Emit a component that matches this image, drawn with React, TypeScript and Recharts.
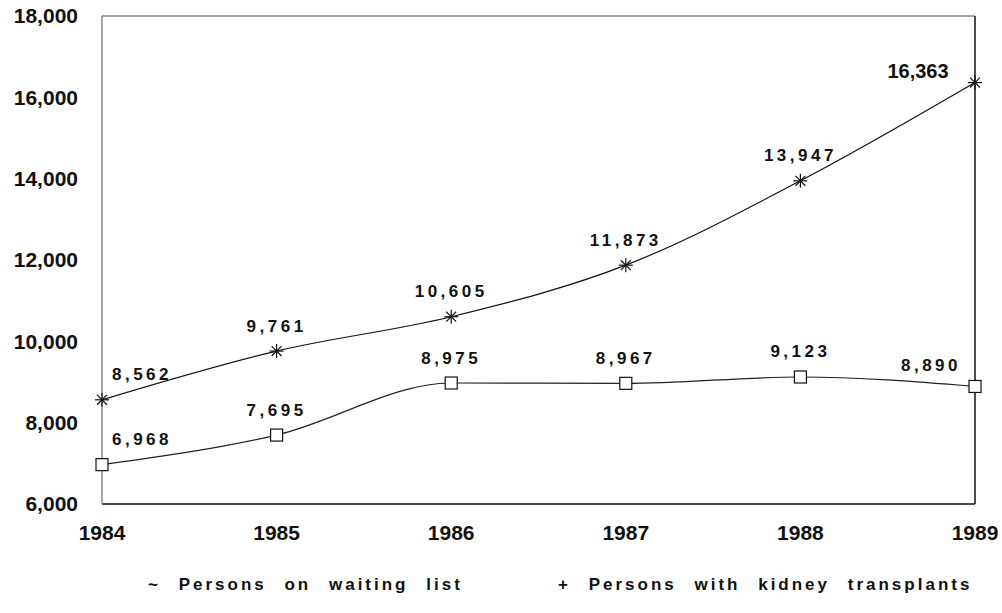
import React from 'react';
import { LineChart, Line, XAxis, YAxis, ReferenceLine, LabelList } from 'recharts';

const years = [1984, 1985, 1986, 1987, 1988, 1989];
const waitingList = [8562, 9761, 10605, 11873, 13947, 16363];
const transplants = [6968, 7695, 8975, 8967, 9123, 8890];
const yTicks = [6000, 8000, 10000, 12000, 14000, 16000, 18000];

const data = years.map((year, i) => ({
  year,
  waiting: waitingList[i],
  transplants: transplants[i],
}));

const FONT = '"Liberation Sans", Arial, sans-serif';
const fmt = (v: number) => v.toLocaleString('en-US');

const Asterisk = (props: any) => {
  const { cx, cy } = props;
  if (cx == null || cy == null) return null;
  const r = 7;
  const d = r * 0.707;
  return (
    <g stroke="#111" strokeWidth={1.2}>
      <line x1={cx - r} y1={cy} x2={cx + r} y2={cy} />
      <line x1={cx} y1={cy - r} x2={cx} y2={cy + r} />
      <line x1={cx - d} y1={cy - d} x2={cx + d} y2={cy + d} />
      <line x1={cx - d} y1={cy + d} x2={cx + d} y2={cy - d} />
    </g>
  );
};

const Square = (props: any) => {
  const { cx, cy } = props;
  if (cx == null || cy == null) return null;
  return <rect x={cx - 6} y={cy - 6} width={12} height={12} fill="#fff" stroke="#111" strokeWidth={1.2} />;
};

// nudge the end labels so they stay inside the frame
const makeLabel = (lastDx: number, lastDy: number, lastPlain: boolean) => (props: any) => {
  const { x, y, value, index } = props;
  let dx = 0;
  let dy = -25;
  if (index === 0) dx = 40;
  if (index === years.length - 1) {
    dx = lastDx;
    dy = lastDy;
  }
  const plain = lastPlain && index === years.length - 1;
  return (
    <text
      x={x + dx}
      y={y + dy}
      textAnchor="middle"
      dominantBaseline="central"
      fontFamily={FONT}
      fontWeight="bold"
      fontSize={plain ? 20 : 17}
      letterSpacing={plain ? 0 : 3.5}
      fill="#111"
    >
      {fmt(value)}
    </text>
  );
};

const tickStyle = { fill: '#111', fontSize: 21, fontWeight: 'bold', fontFamily: FONT };

export default function App() {
  return (
    <div style={{ position: 'absolute', left: 0, top: 0, width: 1002, height: 613, background: '#fff' }}>
      <LineChart
        width={1002}
        height={613}
        data={data}
        margin={{ top: 16, right: 27, left: 0, bottom: 79 }}
      >
        <XAxis
          dataKey="year"
          type="number"
          domain={[1984, 1989]}
          ticks={years}
          axisLine={{ stroke: '#111', strokeWidth: 1.5 }}
          tickLine={false}
          tickSize={0}
          tickMargin={21}
          height={30}
          tick={tickStyle}
        />
        <YAxis
          domain={[6000, 18000]}
          ticks={yTicks}
          tickFormatter={fmt}
          axisLine={{ stroke: '#888', strokeWidth: 1.5 }}
          tickLine={false}
          tickSize={0}
          tickMargin={24}
          width={102}
          tick={tickStyle}
        />
        <ReferenceLine y={18000} stroke="#888" strokeWidth={1.5} />
        <ReferenceLine x={1989} stroke="#111" strokeWidth={1.5} />
        <Line
          type="monotone"
          dataKey="waiting"
          stroke="#111"
          strokeWidth={1.2}
          dot={<Asterisk />}
          isAnimationActive={false}
        >
          <LabelList dataKey="waiting" content={makeLabel(-57, -12, true)} />
        </Line>
        <Line
          type="monotone"
          dataKey="transplants"
          stroke="#222"
          strokeWidth={1.2}
          dot={<Square />}
          isAnimationActive={false}
        >
          <LabelList dataKey="transplants" content={makeLabel(-44, -21, false)} />
        </Line>
      </LineChart>
      <div
        style={{
          position: 'absolute',
          top: 575,
          left: 0,
          width: 1002,
          fontFamily: FONT,
          fontWeight: 'bold',
          fontSize: 17,
          letterSpacing: 3,
          wordSpacing: 10,
          color: '#111',
          whiteSpace: 'nowrap',
        }}
      >
        <span style={{ position: 'absolute', left: 148 }}>~ Persons on waiting list</span>
        <span style={{ position: 'absolute', left: 558 }}>+ Persons with kidney transplants</span>
      </div>
    </div>
  );
}
